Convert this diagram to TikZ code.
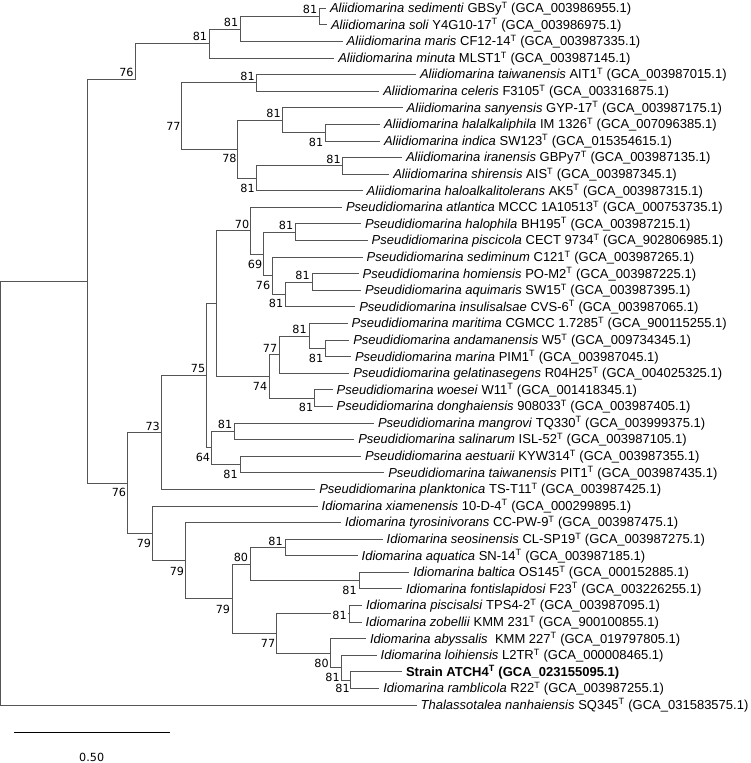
\documentclass[tikz,border=0pt]{standalone}
\usepackage{fontspec}
\setmainfont{Liberation Sans}
\newfontfamily\numfont{DejaVu Sans}
\newcommand{\tsup}{\textsuperscript{T}}
\newcommand{\leaffont}{\fontsize{13}{15}\selectfont}
\newcommand{\bsfont}{\numfont\fontsize{11.2}{13}\selectfont}
\definecolor{brc}{RGB}{85,85,85}
\begin{document}
\begin{tikzpicture}[x=1pt,y=-1pt,
  br/.style={draw=brc,line width=0.9pt},
  leaf/.style={font=\leaffont,anchor=west,inner sep=0pt,outer xsep=4pt,outer ysep=0pt,text height=9.6pt,text depth=1pt},
  bs/.style={font=\bsfont,inner sep=0pt,text height=8pt,text depth=0pt}]
\useasboundingbox (0,0) rectangle (750,763);
% internal nodes
\coordinate (R) at (0.6,493.2);
\coordinate (A) at (87.3,281.4);
\coordinate (B76) at (135.7,79.85);
\coordinate (N81a) at (209.3,43.6);
\coordinate (N81b) at (240,29.05);
\coordinate (N81c) at (319.3,16.6);
\coordinate (N77) at (181.7,116.1);
\coordinate (N81d) at (256.7,82.9);
\coordinate (N78) at (237.7,149.3);
\coordinate (N81f) at (282.7,120.25);
\coordinate (N81e) at (325,132.7);
\coordinate (N81h) at (256.7,178.35);
\coordinate (N81g) at (342.7,165.9);
\coordinate (C76) at (127.7,482.95);
\coordinate (N73) at (161.3,432.55);
\coordinate (N75) at (206.7,375.7);
\coordinate (NP) at (216,303.5);
\coordinate (N70) at (250.7,230.7);
\coordinate (N69) at (263.3,254);
\coordinate (N81i) at (295,232.2);
\coordinate (N76b) at (272.3,275.8);
\coordinate (N81k) at (285.7,294.45);
\coordinate (N81j) at (312.3,282);
\coordinate (N74) at (269.3,376.35);
\coordinate (N77b) at (279,354.6);
\coordinate (N81m) at (309.3,335.95);
\coordinate (N81l) at (325.7,348.4);
\coordinate (N81n) at (314.3,398.1);
\coordinate (N64) at (211.7,447.9);
\coordinate (N81o) at (234,431.3);
\coordinate (N81p) at (240,464.5);
\coordinate (N79c) at (152.3,533.35);
\coordinate (N79b) at (185.7,560.7);
\coordinate (N79a) at (232.3,598.75);
\coordinate (N80a) at (250.7,564);
\coordinate (N81q) at (285,547.4);
\coordinate (N81r) at (359,580.6);
\coordinate (N77c) at (276.7,633.5);
\coordinate (N81s) at (349,613.8);
\coordinate (N80b) at (330,653.2);
\coordinate (N81t) at (341.7,667.7);
\coordinate (N81u) at (350.7,680.15);
% leaves
\node[leaf] (l1) at (326,8.3) {\textit{Aliidiomarina sedimenti} GBSy\tsup{} (GCA\_003986955.1)};
\node[leaf] (l2) at (327,24.9) {\textit{Aliidiomarina soli} Y4G10-17\tsup{} (GCA\_003986975.1)};
\node[leaf] (l3) at (342.7,41.5) {\textit{Aliidiomarina maris} CF12-14\tsup{} (GCA\_003987335.1)};
\node[leaf] (l4) at (334.3,58.1) {\textit{Aliidiomarina minuta} MLST1\tsup{} (GCA\_003987145.1)};
\node[leaf] (l5) at (416,74.6) {\textit{Aliidiomarina taiwanensis} AIT1\tsup{} (GCA\_003987015.1)};
\node[leaf] (l6) at (379.3,91.2) {\textit{Aliidiomarina celeris} F3105\tsup{} (GCA\_003316875.1)};
\node[leaf] (l7) at (402.7,107.8) {\textit{Aliidiomarina sanyensis} GYP-17\tsup{} (GCA\_003987175.1)};
\node[leaf] (l8) at (380,124.4) {\textit{Aliidiomarina halalkaliphila} IM 1326\tsup{} (GCA\_007096385.1)};
\node[leaf] (l9) at (380,141.0) {\textit{Aliidiomarina indica} SW123\tsup{} (GCA\_015354615.1)};
\node[leaf] (l10) at (402,157.6) {\textit{Aliidiomarina iranensis} GBPy7\tsup{} (GCA\_003987135.1)};
\node[leaf] (l11) at (389.3,174.2) {\textit{Aliidiomarina shirensis} AIS\tsup{} (GCA\_003987345.1)};
\node[leaf] (l12) at (362.7,190.8) {\textit{Aliidiomarina haloalkalitolerans} AK5\tsup{} (GCA\_003987315.1)};
\node[leaf] (l13) at (342,207.4) {\textit{Pseudidiomarina atlantica} MCCC 1A10513\tsup{} (GCA\_000753735.1)};
\node[leaf] (l14) at (361,223.9) {\textit{Pseudidiomarina halophila} BH195\tsup{} (GCA\_003987215.1)};
\node[leaf] (l15) at (367.7,240.5) {\textit{Pseudidiomarina piscicola} CECT 9734\tsup{} (GCA\_902806985.1)};
\node[leaf] (l16) at (362.7,257.1) {\textit{Pseudidiomarina sediminum} C121\tsup{} (GCA\_003987265.1)};
\node[leaf] (l17) at (358.7,273.7) {\textit{Pseudidiomarina homiensis} PO-M2\tsup{} (GCA\_003987225.1)};
\node[leaf] (l18) at (361,290.3) {\textit{Pseudidiomarina aquimaris} SW15\tsup{} (GCA\_003987395.1)};
\node[leaf] (l19) at (355.3,306.9) {\textit{Pseudidiomarina insulisalsae} CVS-6\tsup{} (GCA\_003987065.1)};
\node[leaf] (l20) at (347.7,323.5) {\textit{Pseudidiomarina maritima} CGMCC 1.7285\tsup{} (GCA\_900115255.1)};
\node[leaf] (l21) at (349.3,340.1) {\textit{Pseudidiomarina andamanensis} W5\tsup{} (GCA\_009734345.1)};
\node[leaf] (l22) at (351,356.7) {\textit{Pseudidiomarina marina} PIM1\tsup{} (GCA\_003987045.1)};
\node[leaf] (l23) at (349.3,373.2) {\textit{Pseudidiomarina gelatinasegens} R04H25\tsup{} (GCA\_004025325.1)};
\node[leaf] (l24) at (332.7,389.8) {\textit{Pseudidiomarina woesei} W11\tsup{} (GCA\_001418345.1)};
\node[leaf] (l25) at (332.7,406.4) {\textit{Pseudidiomarina donghaiensis} 908033\tsup{} (GCA\_003987405.1)};
\node[leaf] (l26) at (374,423.0) {\textit{Pseudidiomarina mangrovi} TQ330\tsup{} (GCA\_003999375.1)};
\node[leaf] (l27) at (354.3,439.6) {\textit{Pseudidiomarina salinarum} ISL-52\tsup{} (GCA\_003987105.1)};
\node[leaf] (l28) at (361,456.2) {\textit{Pseudidiomarina aestuarii} KYW314\tsup{} (GCA\_003987355.1)};
\node[leaf] (l29) at (384.3,472.8) {\textit{Pseudidiomarina taiwanensis} PIT1\tsup{} (GCA\_003987435.1)};
\node[leaf] (l30) at (315.3,489.4) {\textit{Pseudidiomarina planktonica} TS-T11\tsup{} (GCA\_003987425.1)};
\node[leaf] (l31) at (317.7,506.0) {\textit{Idiomarina xiamenensis} 10-D-4\tsup{} (GCA\_000299895.1)};
\node[leaf] (l32) at (341,522.6) {\textit{Idiomarina tyrosinivorans} CC-PW-9\tsup{} (GCA\_003987475.1)};
\node[leaf] (l33) at (382.7,539.1) {\textit{Idiomarina seosinensis} CL-SP19\tsup{} (GCA\_003987275.1)};
\node[leaf] (l34) at (357.7,555.7) {\textit{Idiomarina aquatica} SN-14\tsup{} (GCA\_003987185.1)};
\node[leaf] (l35) at (409.3,572.3) {\textit{Idiomarina baltica} OS145\tsup{} (GCA\_000152885.1)};
\node[leaf] (l36) at (402,588.9) {\textit{Idiomarina fontislapidosi} F23\tsup{} (GCA\_003226255.1)};
\node[leaf] (l37) at (362,605.5) {\textit{Idiomarina piscisalsi} TPS4-2\tsup{} (GCA\_003987095.1)};
\node[leaf] (l38) at (361.7,622.1) {\textit{Idiomarina zobellii} KMM 231\tsup{} (GCA\_900100855.1)};
\node[leaf] (l39) at (366,638.7) {\textit{Idiomarina abyssalis}\ \ KMM 227\tsup{} (GCA\_019797805.1)};
\node[leaf] (l40) at (376.7,655.3) {\textit{Idiomarina loihiensis} L2TR\tsup{} (GCA\_000008465.1)};
\node[leaf] (l41) at (402,671.9) {\textbf{Strain ATCH4\tsup{} (GCA\_023155095.1)}};
\node[leaf] (l42) at (379.3,688.4) {\textit{Idiomarina ramblicola} R22\tsup{} (GCA\_003987255.1)};
\node[leaf] (l43) at (416.7,705.0) {\textit{Thalassotalea nanhaiensis} SQ345\tsup{} (GCA\_031583575.1)};
% branches
\foreach \p/\c in {R/A, R/l43.west, A/B76, A/C76, B76/N81a,
  N81a/N81b, N81a/l4.west, N81b/N81c, N81b/l3.west, N81c/l1.west, N81c/l2.west,
  N77/N81d, N77/N78, N81d/l5.west, N81d/l6.west, N78/N81f, N78/N81h,
  N81f/l7.west, N81f/N81e, N81e/l8.west, N81e/l9.west, N81h/N81g, N81h/l12.west,
  N81g/l10.west, N81g/l11.west,
  C76/N73, C76/N79c, N73/N75, N73/l30.west, N75/NP, N75/N64, NP/N70, NP/N74,
  N70/l13.west, N70/N69, N69/N81i, N69/N76b, N81i/l14.west, N81i/l15.west,
  N76b/l16.west, N76b/N81k, N81k/N81j, N81k/l19.west, N81j/l17.west, N81j/l18.west,
  N74/N77b, N74/N81n, N77b/N81m, N77b/l23.west, N81m/l20.west, N81m/N81l,
  N81l/l21.west, N81l/l22.west, N81n/l24.west, N81n/l25.west,
  N64/N81o, N64/N81p, N81o/l26.west, N81o/l27.west, N81p/l28.west, N81p/l29.west,
  N79c/l31.west, N79c/N79b, N79b/l32.west, N79b/N79a, N79a/N80a, N79a/N77c,
  N80a/N81q, N80a/N81r, N81q/l33.west, N81q/l34.west, N81r/l35.west, N81r/l36.west,
  N77c/N81s, N77c/N80b, N81s/l37.west, N81s/l38.west, N80b/l39.west, N80b/N81t,
  N81t/l40.west, N81t/N81u, N81u/l41.west, N81u/l42.west}
  \draw[br] (\p) |- (\c);
% bootstrap values
\node[bs] (b1) at (310,9.5) {81};
\node[bs] (b2) at (231,22) {81};
\node[bs] (b3) at (200,36) {81};
\node[bs] (b4) at (126.5,72.5) {76};
\node[bs] (b5) at (247.5,76) {81};
\node[bs] (b6) at (173.5,126) {77};
\node[bs] (b7) at (273.5,113) {81};
\node[bs] (b8) at (316,142) {81};
\node[bs] (b9) at (229.5,158.5) {78};
\node[bs] (b10) at (247.5,188) {81};
\node[bs] (b11) at (333.5,159) {81};
\node[bs] (b12) at (242,224) {70};
\node[bs] (b13) at (286,225) {81};
\node[bs] (b14) at (255,264) {69};
\node[bs] (b15) at (263,285.5) {76};
\node[bs] (b16) at (276,303.5) {81};
\node[bs] (b17) at (302.5,275.5) {81};
\node[bs] (b18) at (198,368.5) {75};
\node[bs] (b19) at (260,386.5) {74};
\node[bs] (b20) at (270,348) {77};
\node[bs] (b21) at (299.5,329.5) {81};
\node[bs] (b22) at (316,358) {81};
\node[bs] (b23) at (306,407.5) {81};
\node[bs] (b24) at (203,457.5) {64};
\node[bs] (b25) at (225,424) {81};
\node[bs] (b26) at (230.5,474) {81};
\node[bs] (b27) at (152.7,426) {73};
\node[bs] (b28) at (119,492.7) {76};
\node[bs] (b29) at (144,543.5) {79};
\node[bs] (b30) at (177,571) {79};
\node[bs] (b31) at (223,609) {79};
\node[bs] (b32) at (241,557.5) {80};
\node[bs] (b33) at (275.5,541.5) {81};
\node[bs] (b34) at (349.5,590.5) {81};
\node[bs] (b35) at (268,643) {77};
\node[bs,fill=white,inner xsep=1pt] (b36) at (339.5,615) {81};
\node[bs] (b37) at (321.5,663) {80};
\node[bs] (b38) at (332.5,677) {81};
\node[bs] (b39) at (342.5,688.5) {81};
% scale bar
\coordinate (s1) at (14,732.3);
\coordinate (s2) at (170,732.3);
\draw[draw=black,line width=0.9pt] (s1) -- (s2);
\node[bs] (slab) at (91.7,757.7) {0.50};
\end{tikzpicture}
\end{document}
